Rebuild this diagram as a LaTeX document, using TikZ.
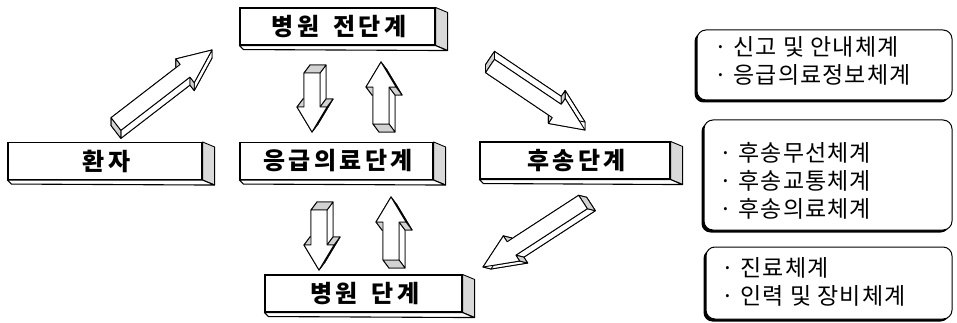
\documentclass[tikz,border=0pt]{standalone}
\usepackage{fontspec}
\usetikzlibrary{calc,shadows}
\newfontfamily\krlab[LetterSpace=14]{Noto Sans CJK KR}
\newfontfamily\krtxt[LetterSpace=5]{Noto Sans CJK KR}
\newcommand{\pencilarrow}[6]{%
 \coordinate (PA) at #1;
 \coordinate (PB) at #2;
 \coordinate (PC) at ($(PB)!#6pt!(PA)$);
 \coordinate (P1) at ($(PA)!#4pt!90:(PB)$);
 \coordinate (P7) at ($(PA)!#4pt!-90:(PB)$);
 \coordinate (P2) at ($(PC)!#4pt!-90:(PA)$);
 \coordinate (P6) at ($(PC)!#4pt!90:(PA)$);
 \coordinate (P3) at ($(PC)!#5pt!-90:(PA)$);
 \coordinate (P5) at ($(PC)!#5pt!90:(PA)$);
 \coordinate (P4) at (PB);
 \foreach \k in {1,...,7}{\coordinate (Q\k) at ($(P\k)+#3$);}
 \filldraw[pface] (Q1)--(Q2)--(Q3)--(Q4)--(Q5)--(Q6)--(Q7)--cycle;
 \foreach \i/\j in {1/2,3/4,4/5,6/7}{\filldraw[pface] (P\i)--(P\j)--(Q\j)--(Q\i)--cycle;}
 \foreach \i/\j in {2/3,5/6,7/1}{\filldraw[pend] (P\i)--(P\j)--(Q\j)--(Q\i)--cycle;}
 \filldraw[pface] (P1)--(P2)--(P3)--(P4)--(P5)--(P6)--(P7)--cycle;
}
\newcommand{\stageextra}[1]{%
 \filldraw[boxside] (#1.north east) -- ++(12,5) -- ($(#1.south east)+(12,5)$) -- (#1.south east) -- cycle;
 \filldraw[boxbottom] (#1.south west) -- (#1.south east) -- ($(#1.south east)+(12,5)$) -- ($(#1.south west)+(4,4)$) -- cycle;
}
\begin{document}
\begin{tikzpicture}[x=1pt,y=-1pt,
 stagebox/.style={draw, line width=1.1pt, fill=white, inner sep=0pt, minimum height=37pt,
   font=\krlab\bfseries\fontsize{24}{28}\selectfont},
 boxside/.style={draw, line width=0.9pt, fill=gray!30, line join=round},
 boxbottom/.style={draw, line width=1.1pt, fill=white, line join=round},
 pface/.style={draw, line width=0.9pt, fill=white, line join=round},
 pend/.style={draw, line width=0.9pt, fill=gray!35, line join=round},
 infobox/.style={draw, line width=1pt, rounded corners=9pt, fill=white,
   drop shadow={shadow xshift=-2.5pt, shadow yshift=-2.5pt, opacity=1, fill=black}},
 infotext/.style={anchor=base west, inner sep=0pt, font=\krtxt\fontsize{23}{27}\selectfont}
]
\useasboundingbox (0,0) rectangle (957,323);

% stage boxes
\node[stagebox, minimum width=195pt] (pre) at (337.5,26.5) {\hspace{3pt}병원\hspace{14pt}전단계};
\node[stagebox, minimum width=194pt] (pat) at (105,161) {\hspace{3pt}환자};
\node[stagebox, minimum width=193pt] (emg) at (336.5,161) {\hspace{3pt}응급의료단계};
\node[stagebox, minimum width=190pt] (trn) at (575,160.5) {\hspace{3pt}후송단계};
\node[stagebox, minimum width=197pt] (hos) at (363.5,293.5) {\hspace{3pt}병원\hspace{14pt}단계};
\stageextra{pre}
\stageextra{pat}
\stageextra{emg}
\stageextra{trn}
\stageextra{hos}

% pencil arrows: tail, tip, depth, half shaft, half head, head length
\pencilarrow{(116,124)}{(212,50)}{(0,8)}{8}{15}{34}
\pencilarrow{(490,66)}{(585,130)}{(0,-8)}{8}{15}{34}
\pencilarrow{(583,202)}{(483,267)}{(8,2)}{8}{15}{34}
\pencilarrow{(312,73)}{(312,132)}{(6,-8)}{8}{15}{25}
\pencilarrow{(381,124)}{(381,62)}{(6,8)}{8}{15}{25}
\pencilarrow{(319,210)}{(319,270)}{(6,-8)}{8}{15}{25}
\pencilarrow{(391,260)}{(391,197)}{(6,8)}{8}{15}{25}

% info boxes
\node[infobox, minimum width=255pt, minimum height=70pt] (ib1) at (824.5,65) {};
\node[infobox, minimum width=248pt, minimum height=110pt] (ib2) at (828,175) {};
\node[infobox, minimum width=246pt, minimum height=72pt] (ib3) at (829,283) {};

\node[infotext] (t11) at (714,56) {· 신고 및 안내체계};
\node[infotext] (t12) at (714,84) {· 응급의료정보체계};
\node[infotext] (t21) at (719,161) {· 후송무선체계};
\node[infotext] (t22) at (719,189) {· 후송교통체계};
\node[infotext] (t23) at (719,217) {· 후송의료체계};
\node[infotext] (t31) at (721,276) {· 진료체계};
\node[infotext] (t32) at (721,304) {· 인력 및 장비체계};
\end{tikzpicture}
\end{document}
